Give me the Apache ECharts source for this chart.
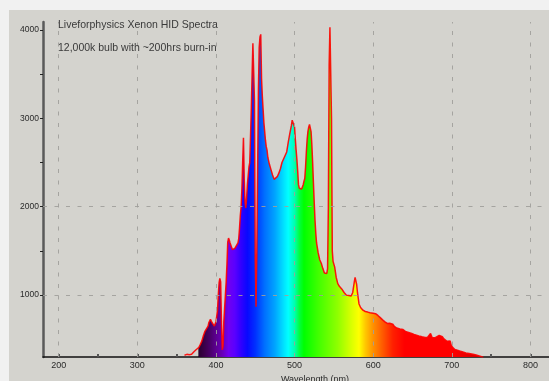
<!DOCTYPE html>
<html>
<head>
<meta charset="utf-8">
<script src="https://cdn.jsdelivr.net/npm/echarts@6/dist/echarts.min.js"></script>
<style>
  html, body { margin: 0; padding: 0; background: #f1f1f1; width: 549px; height: 381px; overflow: hidden; }
  #chart { position: absolute; left: 9px; top: 10px; width: 540px; height: 371px; }
</style>
</head>
<body>
<div id="chart"></div>
<script>
// Xenon HID lamp spectrum: wavelength (nm) and intensity (counts)
const wavelengths = [
  360, 363, 366, 369, 372, 375, 378, 380, 382, 384, 386, 388, 390, 391, 392, 393, 394, 395, 396, 397,
  398, 399, 400, 401, 402, 403, 404, 405, 406, 407, 408, 409, 410, 411, 412, 413, 414, 415, 416, 417,
  418, 419, 420, 421, 422, 423, 424, 425, 426, 427, 428, 429, 430, 431, 432, 433, 434, 435, 436, 437,
  438, 439, 440, 441, 442, 443, 444, 445, 446, 447, 448, 449, 450, 451, 452, 453, 454, 455, 456, 457,
  458, 459, 460, 461, 462, 463, 464, 465, 466, 468, 470, 472, 474, 476, 478, 480, 482, 484, 486, 488,
  490, 492, 494, 496, 497, 498, 499, 500, 501, 502, 503, 504, 505, 506, 507, 508, 509, 510, 511, 512,
  513, 514, 515, 516, 517, 518, 519, 520, 521, 522, 523, 524, 525, 526, 527, 528, 530, 532, 534, 536,
  538, 540, 541, 542, 543, 544, 545, 546, 547, 548, 549, 551, 553, 555, 557, 560, 563, 566, 569, 572,
  574, 576, 577, 578, 579, 580, 582, 584, 587, 590, 593, 596, 600, 603, 606, 609, 612, 615, 618, 621,
  623, 625, 627, 630, 634, 638, 641, 645, 649, 652, 655, 658, 662, 666, 669, 671, 673, 675, 677, 679,
  681, 684, 686, 688, 690, 692, 694, 696, 698, 699, 701, 704, 707, 710, 714, 718, 722, 727, 731, 735,
  738, 740
];
const counts = [
  320, 330, 325, 332, 360, 385, 405, 440, 480, 540, 590, 605, 650, 690, 700, 725, 715, 690, 680, 670,
  650, 655, 700, 760, 830, 1000, 1140, 1190, 1150, 700, 380, 420, 700, 850, 1000, 1150, 1350, 1600, 1645, 1620,
  1590, 1570, 1540, 1515, 1510, 1525, 1530, 1545, 1560, 1575, 1590, 1640, 1760, 1900, 2000, 2200, 2500, 2780, 2300, 2050,
  1985, 2100, 2250, 2350, 2450, 2500, 2800, 3120, 3500, 3850, 3870, 3200, 1400, 870, 1500, 2400, 3300, 3800, 3920, 3950,
  3450, 3250, 3100, 2950, 2850, 2750, 2680, 2640, 2560, 2480, 2420, 2360, 2310, 2300, 2340, 2380, 2430, 2500, 2540, 2580,
  2620, 2730, 2830, 2920, 2980, 3000, 2990, 2900, 2760, 2640, 2530, 2400, 2250, 2210, 2200, 2190, 2200, 2220, 2250, 2290,
  2320, 2450, 2620, 2760, 2850, 2900, 2930, 2945, 2850, 2700, 2500, 2270, 2050, 1850, 1700, 1590, 1480, 1400, 1360, 1300,
  1250, 1240, 1245, 1300, 2000, 3600, 4030, 4040, 3000, 1500, 1380, 1320, 1200, 1130, 1100, 1070, 1030, 1000, 995, 990,
  1030, 1150, 1200, 1207, 1120, 1030, 900, 860, 830, 815, 808, 800, 795, 790, 770, 745, 720, 698, 680, 682,
  690, 670, 645, 628, 618, 610, 590, 578, 566, 556, 547, 538, 528, 522, 520, 540, 566, 520, 510, 518,
  525, 545, 560, 530, 505, 485, 478, 495, 480, 440, 410, 385, 378, 369, 358, 346, 340, 331, 322, 312,
  303, 300
];

// Axis ticks, labels and guide lines
const xTickValues = [200, 250, 300, 350, 400, 450, 500, 550, 600, 650, 700, 750, 800, 850];
const xLabelValues = [200, 300, 400, 500, 600, 700, 800];
const yTickValues = [1000, 1500, 2000, 2500, 3000, 3500, 4000];
const yLabelValues = [1000, 2000, 3000, 4000];
const xGuides = [200, 300, 400, 500, 600, 700, 800];
const yGuides = [1000, 2000];

// Visible-light colours used to paint under the curve, keyed by wavelength
const spectrumColors = [
  [377.5, 'rgba(0,0,0,0)'], [378, '#2a0030'], [385, '#3a0048'], [392, '#480066'], [400, '#5c0090'],
  [408, '#6800b8'], [416, '#7000f0'], [424, '#5a00ff'], [432, '#3000ff'], [440, '#0808ff'],
  [450, '#0030ff'], [462, '#0070ff'], [475, '#00a4ff'], [486, '#00e0ff'], [492, '#00ffff'],
  [500, '#00ffb0'], [506, '#00ff40'], [512, '#00ff00'], [530, '#40ff00'], [555, '#90ff00'],
  [572, '#d8ff00'], [582, '#ffff00'], [590, '#ffc800'], [600, '#ff9000'], [612, '#ff5a00'],
  [625, '#ff2000'], [640, '#ff0000'], [700, '#ff0000'], [720, '#e80000'], [740, '#c80000']
];

const points = wavelengths.map((w, i) => [w, counts[i]]);
const wMin = wavelengths[0], wMax = wavelengths[wavelengths.length - 1];
const fillGradient = new echarts.graphic.LinearGradient(0, 0, 1, 0,
  spectrumColors.map(([w, c]) => ({ offset: Math.min(1, Math.max(0, (w - wMin) / (wMax - wMin))), color: c }))
);

const font = "'Liberation Sans', Arial, sans-serif";
const guideStyle = { color: 'rgba(160,159,155,0.9)', width: 1, type: [4, 7.5] };
const plain = v => String(v);

const chart = echarts.init(document.getElementById('chart'), null, { renderer: 'canvas' });
chart.setOption({
  animation: false,
  backgroundColor: '#d4d3ce',
  title: [
    { text: 'Liveforphysics Xenon HID Spectra', left: 44, top: 5,
      textStyle: { fontFamily: font, fontSize: 10.5, fontWeight: 'normal', color: '#3a3a3a' } },
    { text: '12,000k bulb with ~200hrs burn-in', left: 44, top: 28,
      textStyle: { fontFamily: font, fontSize: 10.5, fontWeight: 'normal', color: '#3a3a3a' } }
  ],
  grid: { left: 34, top: 12, right: -38, bottom: 24, containLabel: false, outerBoundsMode: 'none' },
  xAxis: {
    type: 'value', min: 180, max: 872,
    name: 'Wavelength (nm)', nameLocation: 'middle', nameGap: 16,
    nameTextStyle: { fontFamily: font, fontSize: 9, color: '#2a2a2a' },
    axisLine: { show: true, lineStyle: { color: '#111', width: 1.5 } },
    axisTick: { show: true, inside: true, length: 3, customValues: xTickValues, lineStyle: { color: '#555', width: 2 } },
    axisLabel: { customValues: xLabelValues, formatter: plain, fontFamily: font, fontSize: 9, color: '#2a2a2a', margin: 4 },
    splitLine: { show: false }
  },
  yAxis: {
    type: 'value', min: 300, max: 4090,
    name: 'Intensity (counts)', nameLocation: 'middle', nameGap: 24, nameRotate: 90,
    nameTextStyle: { fontFamily: font, fontSize: 9, color: '#2a2a2a' },
    axisLine: { show: true, lineStyle: { color: '#5a5a5a', width: 2.5 } },
    axisTick: { show: true, length: 3, customValues: yTickValues, lineStyle: { color: '#222', width: 1 } },
    axisLabel: { customValues: yLabelValues, formatter: plain, fontFamily: font, fontSize: 8.5, color: '#2a2a2a', margin: 4 },
    splitLine: { show: false }
  },
  series: [
    {
      name: 'fill', type: 'line', data: points, showSymbol: false, silent: true, z: 2,
      lineStyle: { width: 0 },
      areaStyle: { color: fillGradient, opacity: 1, origin: 'start' }
    },
    {
      name: 'outline', type: 'line', data: points, showSymbol: false, silent: true, z: 3,
      lineStyle: { color: 'rgba(255,0,0,0.9)', width: 1.5 },
      markLine: {
        silent: true, symbol: 'none', label: { show: false },
        lineStyle: guideStyle,
        data: xGuides.map(v => ({ xAxis: v })).concat(yGuides.map(v => ({ yAxis: v })))
      }
    }
  ]
});
</script>
</body>
</html>
